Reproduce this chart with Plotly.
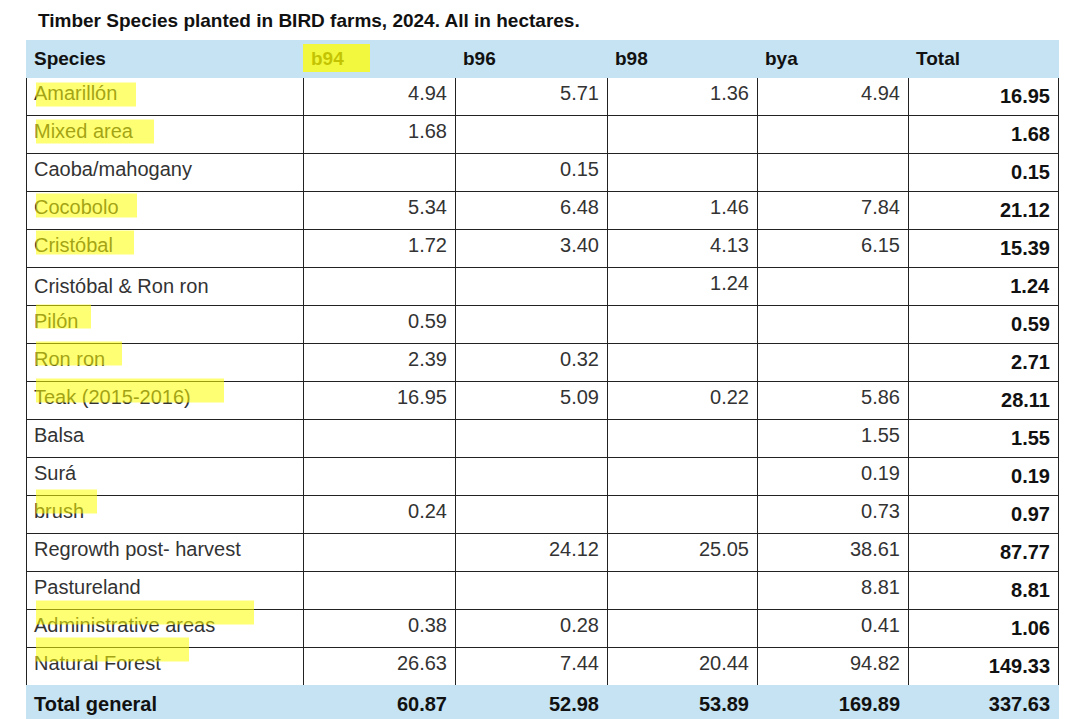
import plotly.graph_objects as go

W, H = 1068, 719

species = ["Amarillón", "Mixed area", "Caoba/mahogany", "Cocobolo", "Cristóbal",
           "Cristóbal & Ron ron", "Pilón", "Ron ron", "Teak (2015-2016)", "Balsa",
           "Surá", "brush", "Regrowth post- harvest", "Pastureland",
           "Administrative areas", "Natural Forest"]
b94 = ["4.94", "1.68", "", "5.34", "1.72", "", "0.59", "2.39", "16.95", "", "", "0.24", "", "", "0.38", "26.63"]
b96 = ["5.71", "", "0.15", "6.48", "3.40", "", "", "0.32", "5.09", "", "", "", "24.12", "", "0.28", "7.44"]
b98 = ["1.36", "", "", "1.46", "4.13", "1.24", "", "", "0.22", "", "", "", "25.05", "", "", "20.44"]
bya = ["4.94", "", "", "7.84", "6.15", "", "", "", "5.86", "1.55", "0.19", "0.73", "38.61", "8.81", "0.41", "94.82"]
total = ["16.95", "1.68", "0.15", "21.12", "15.39", "1.24", "0.59", "2.71", "28.11", "1.55",
         "0.19", "0.97", "87.77", "8.81", "1.06", "149.33"]
grand = ["Total general", "60.87", "52.98", "53.89", "169.89", "337.63"]
headers = ["Species", "b94", "b96", "b98", "bya", "Total"]
# highlighter stroke width behind each species label (0 = not highlighted)
hl_width = [100, 118, 0, 101, 98, 0, 55, 86, 188, 0, 0, 61, 0, 0, 218, 153]

blue = "#c5e3f3"
nrow = len(species) + 1

def col(vals, g, bold):
    out = [f"<b>{v}</b>" if bold and v else v for v in vals]
    return out + [f"<b>{g}</b>"]

cols = [col(species, grand[0], False), col(b94, grand[1], False), col(b96, grand[2], False),
        col(b98, grand[3], False), col(bya, grand[4], False), col(total, grand[5], True)]
fills = [["white"] * (nrow - 1) + [blue]] * 6
lines = [["#222"] * (nrow - 1) + [blue]] * 6
fcolors = [["#333"] * (nrow - 1) + ["#111"]] * 5 + [["#111"] * nrow]

fig = go.Figure(go.Table(
    columnwidth=[277, 152, 152, 150, 151, 150],
    header=dict(values=[f"<b>{h}</b>" for h in headers], fill_color=blue,
                line=dict(color=blue, width=1), height=34, align="left",
                font=dict(family="Liberation Sans", size=19, color="#111")),
    cells=dict(values=cols, fill_color=fills, line=dict(color=lines, width=1),
               height=36, align=["left"] + ["right"] * 5,
               font=dict(family="Liberation Sans", size=20, color=fcolors)),
    domain=dict(x=[18 / W, 1050 / W], y=[0, 1 - 32 / H]),
))

shapes = []
for i, w in enumerate(hl_width):
    if w:
        yc = 68 + 37 * i + 18.5
        shapes.append(dict(type="rect", xref="paper", yref="paper", layer="above",
                           x0=28 / W, x1=(28 + w) / W, y0=1 - (yc + 12) / H, y1=1 - (yc - 12) / H,
                           fillcolor="rgba(255,255,0,0.55)", line=dict(width=0)))
shapes.append(dict(type="rect", xref="paper", yref="paper", layer="above",
                   x0=295 / W, x1=362 / W, y0=1 - 64 / H, y1=1 - 36 / H,
                   fillcolor="rgba(255,255,0,0.75)", line=dict(width=0)))

fig.update_layout(
    width=W, height=H, margin=dict(l=0, r=0, t=0, b=0),
    paper_bgcolor="white", shapes=shapes,
    annotations=[dict(text="<b>Timber Species planted in BIRD farms, 2024. All in hectares.</b>",
                      xref="paper", yref="paper", x=28 / W, y=1 - 13 / H, xanchor="left",
                      yanchor="middle", showarrow=False,
                      font=dict(family="Liberation Sans", size=19, color="#111"))],
)
fig.write_html("out.html")
